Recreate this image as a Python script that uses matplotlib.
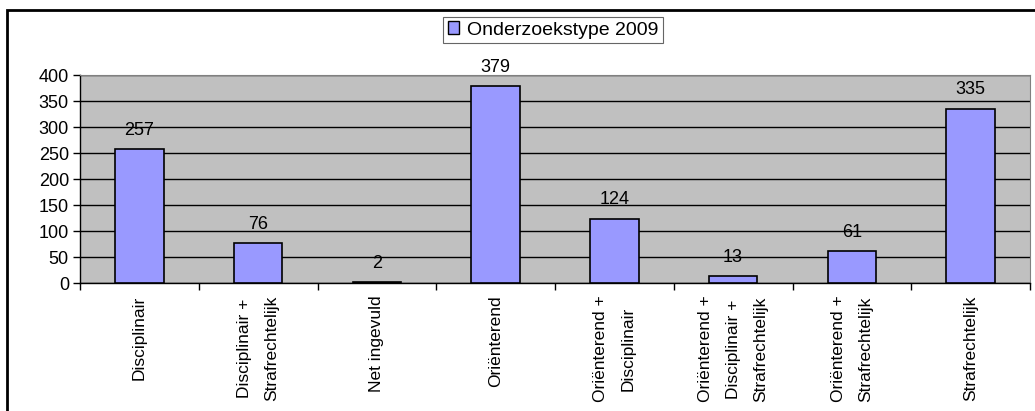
import matplotlib.pyplot as plt
from matplotlib.patches import Rectangle, Patch

categories = ['Disciplinair', 'Disciplinair +\nStrafrechtelijk', 'Net ingevuld', 'Oriënterend',
              'Oriënterend +\nDisciplinair', 'Oriënterend +\nDisciplinair +\nStrafrechtelijk',
              'Oriënterend +\nStrafrechtelijk', 'Strafrechtelijk']
counts = [257, 76, 2, 379, 124, 13, 61, 335]
series_name = 'Onderzoekstype 2009'
y_ticks = [0, 50, 100, 150, 200, 250, 300, 350, 400]

plt.rcParams['font.family'] = ['Liberation Sans', 'DejaVu Sans']
fs = 12.5

fig = plt.figure(figsize=(10.35, 4.11), dpi=100)
ax = fig.add_axes([80 / 1035, 1 - 283 / 411, 950 / 1035, 208 / 411])
ax.set_facecolor('#C0C0C0')

x = list(range(len(categories)))
ax.bar(x, counts, width=0.41, color='#9999FF', edgecolor='black', linewidth=1.2, zorder=3)
for xi, v in zip(x, counts):
    ax.annotate(str(v), (xi, v), xytext=(0, 7.5), textcoords='offset points',
                ha='center', va='bottom', fontsize=13)

ax.set_xlim(-0.5, len(categories) - 0.5)
ax.set_ylim(0, 400)
ax.set_yticks(y_ticks)
ax.yaxis.grid(True, color='black', linewidth=1, zorder=1)
ax.set_axisbelow(True)

ax.set_xticks(x)
ax.set_xticklabels(categories, rotation=90, fontsize=fs, linespacing=2.05, multialignment='center')
ax.set_xticks([i - 0.5 for i in range(len(categories) + 1)], minor=True)
ax.tick_params(axis='x', which='major', length=0, pad=9)
ax.tick_params(axis='x', which='minor', length=5, width=1, direction='out')
ax.tick_params(axis='y', length=5, width=1, labelsize=13, pad=3)

for s in ['top', 'right']:
    ax.spines[s].set_color('#808080')
for s in ['left', 'bottom']:
    ax.spines[s].set_color('black')
    ax.spines[s].set_linewidth(1)

handle = Patch(facecolor='#9999FF', edgecolor='black', linewidth=1)
leg = fig.legend([handle], [series_name], loc='center', bbox_to_anchor=(553 / 1035, 1 - 30 / 411),
                 fontsize=14, frameon=True, fancybox=False, edgecolor='#404040', handlelength=0.6,
                 handleheight=0.6, handletextpad=0.4, borderpad=0.25)
leg.get_frame().set_linewidth(0.8)

fig.patches.append(Rectangle((7 / 1035, -0.1), 1.2, 1 - 10 / 411 + 0.1, transform=fig.transFigure,
                             fill=False, edgecolor='black', linewidth=2))

fig.savefig('out.png', dpi=100)
